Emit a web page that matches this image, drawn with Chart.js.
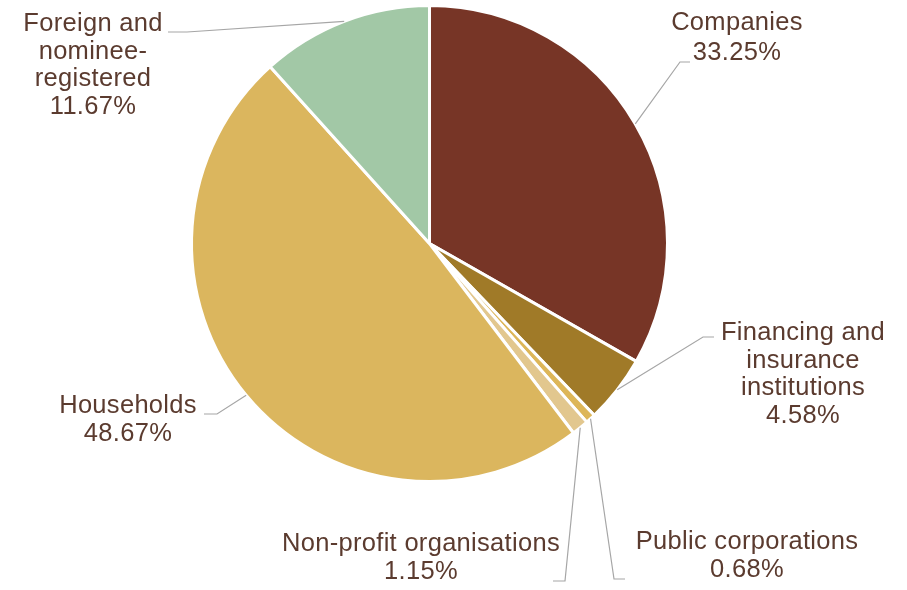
<!DOCTYPE html>
<html>
<head>
<meta charset="utf-8">
<script src="https://cdn.jsdelivr.net/npm/chart.js@4.4.1/dist/chart.umd.min.js"></script>
<style>
    html, body { margin: 0; padding: 0; background: #ffffff; }
    #wrap { position: relative; width: 907px; height: 590px; }
</style>
</head>
<body>
<div id="wrap"><canvas id="ownershipChart" width="907" height="590"></canvas></div>
<script>
// --- DATOS ---
const sectors = ['Companies', 'Financing and insurance institutions', 'Public corporations',
                 'Non-profit organisations', 'Households', 'Foreign and nominee-registered'];
const shares = [33.25, 4.58, 0.68, 1.15, 48.67, 11.67];
const sectorLines = [
    ['Companies'],
    ['Financing and', 'insurance', 'institutions'],
    ['Public corporations'],
    ['Non-profit organisations'],
    ['Households'],
    ['Foreign and', 'nominee-', 'registered']
];
const sliceColors = ['#773526', '#A07A28', '#DDB658', '#E2C78E', '#DBB65E', '#A2C8A6'];

// Posición de cada etiqueta: centro del texto, interlineado, codo y final de la línea guía
const labelLayout = [
    { x: 737, y: 23,  lh: 29.5, elbow: [680, 62],  end: [690, 62] },
    { x: 803, y: 333, lh: 27.5, elbow: [703, 337], end: [714, 337] },
    { x: 747, y: 542, lh: 27.5, elbow: [614, 579], end: [625, 579] },
    { x: 421, y: 544, lh: 27.5, elbow: [565, 581], end: [553, 581] },
    { x: 128, y: 406, lh: 27.5, elbow: [217, 414], end: [204, 414] },
    { x: 93,  y: 24,  lh: 27.5, elbow: [187, 32],  end: [168, 32] }
];

const FONT = '25.5px "Liberation Sans", Arial, sans-serif';
const TEXT_COLOR = '#5B3B2F';

// Plugin para dibujar etiquetas con líneas guía
const leaderLabels = {
    id: 'leaderLabels',
    afterDatasetsDraw(chart) {
        const ctx = chart.ctx;
        const arcs = chart.getDatasetMeta(0).data;
        ctx.save();
        arcs.forEach((arc, i) => {
            const p = arc.getProps(['x', 'y', 'startAngle', 'endAngle', 'outerRadius'], true);
            const mid = (p.startAngle + p.endAngle) / 2;
            const sx = p.x + Math.cos(mid) * p.outerRadius;
            const sy = p.y + Math.sin(mid) * p.outerRadius;
            const lay = labelLayout[i];

            ctx.strokeStyle = '#A6A6A6';
            ctx.lineWidth = 1.2;
            ctx.beginPath();
            ctx.moveTo(sx, sy);
            ctx.lineTo(lay.elbow[0], lay.elbow[1]);
            ctx.lineTo(lay.end[0], lay.end[1]);
            ctx.stroke();

            const lines = sectorLines[i].concat([shares[i].toFixed(2) + '%']);
            ctx.font = FONT;
            ctx.letterSpacing = '0.3px';
            ctx.fillStyle = TEXT_COLOR;
            ctx.textAlign = 'center';
            ctx.textBaseline = 'middle';
            lines.forEach((t, k) => ctx.fillText(t, lay.x, lay.y + k * lay.lh));
        });
        ctx.restore();
    }
};

function initChart() {
    const ctx = document.getElementById('ownershipChart').getContext('2d');
    new Chart(ctx, {
        type: 'pie',
        data: {
            labels: sectors,
            datasets: [{
                data: shares,
                backgroundColor: sliceColors,
                borderColor: '#ffffff',
                borderWidth: 3
            }]
        },
        options: {
            responsive: false,
            animation: false,
            layout: { padding: { left: 190, right: 238, top: 4, bottom: 107 } },
            plugins: {
                legend: { display: false },
                tooltip: { enabled: false }
            }
        },
        plugins: [leaderLabels]
    });
}

window.addEventListener('load', initChart);
</script>
</body>
</html>
